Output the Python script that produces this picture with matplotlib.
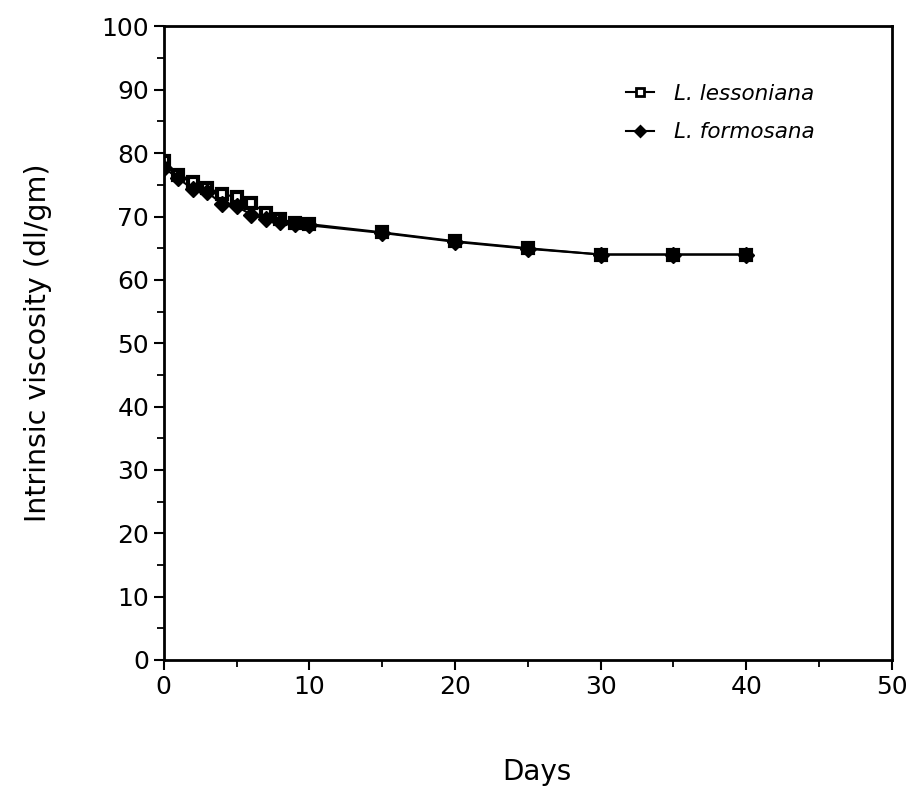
import numpy as np
import matplotlib.pyplot as plt
from matplotlib.ticker import MultipleLocator

days = [0, 1, 2, 3, 4, 5, 6, 7, 8, 9, 10, 15, 20, 25, 30, 35, 40]
lessoniana = [78.8, 76.5, 75.5, 74.5, 73.6, 73.0, 72.2, 70.5, 69.6, 69.0, 68.8,
              67.5, 66.1, 65.0, 64.0, 64.0, 64.0]
formosana = [77.7, 76.0, 74.3, 73.8, 72.0, 71.6, 70.3, 69.6, 69.2, 68.8, 68.6,
             67.4, 66.0, 64.9, 64.0, 64.0, 64.0]

plt.rcParams['font.family'] = ['DejaVu Sans']

fig = plt.figure(figsize=(9.1, 7.89), dpi=100)
ax = fig.add_axes([0.180, 0.1635, 0.800, 0.803])

ax.plot(days, lessoniana, color='black', lw=1.5, marker='s', ms=7.5,
        mfc='white', mec='black', mew=3, label='L. lessoniana', zorder=2)
ax.plot(days, formosana, color='black', lw=1.5, marker='D', ms=8,
        mfc='black', mec='black', label='L. formosana', zorder=3)

ax.set_xlim(0, 50)
ax.set_ylim(0, 100)
ax.xaxis.set_major_locator(MultipleLocator(10))
ax.xaxis.set_minor_locator(MultipleLocator(5))
ax.yaxis.set_major_locator(MultipleLocator(10))
ax.yaxis.set_minor_locator(MultipleLocator(5))
ax.tick_params(which='major', direction='out', length=7, width=1.5, labelsize=18)
ax.tick_params(which='minor', direction='out', length=5, width=1.3)
for s in ax.spines.values():
    s.set_linewidth(2)

ax.set_xlabel('Days', fontsize=20)
ax.set_ylabel('Intrinsic viscosity (dl/gm)', fontsize=20.5)
ax.xaxis.set_label_coords(0.513, -0.155)
ax.yaxis.set_label_coords(-0.154, 0.5)

leg = ax.legend(loc='upper right', bbox_to_anchor=(0.92, 0.94), frameon=False,
                handlelength=1.3, handletextpad=0.9, labelspacing=0.85,
                prop={'style': 'italic', 'size': 15.5})
for h in leg.legend_handles:
    h.set_markersize(5.5)
    h.set_markeredgewidth(2)

fig.savefig('out.png', dpi=100)
